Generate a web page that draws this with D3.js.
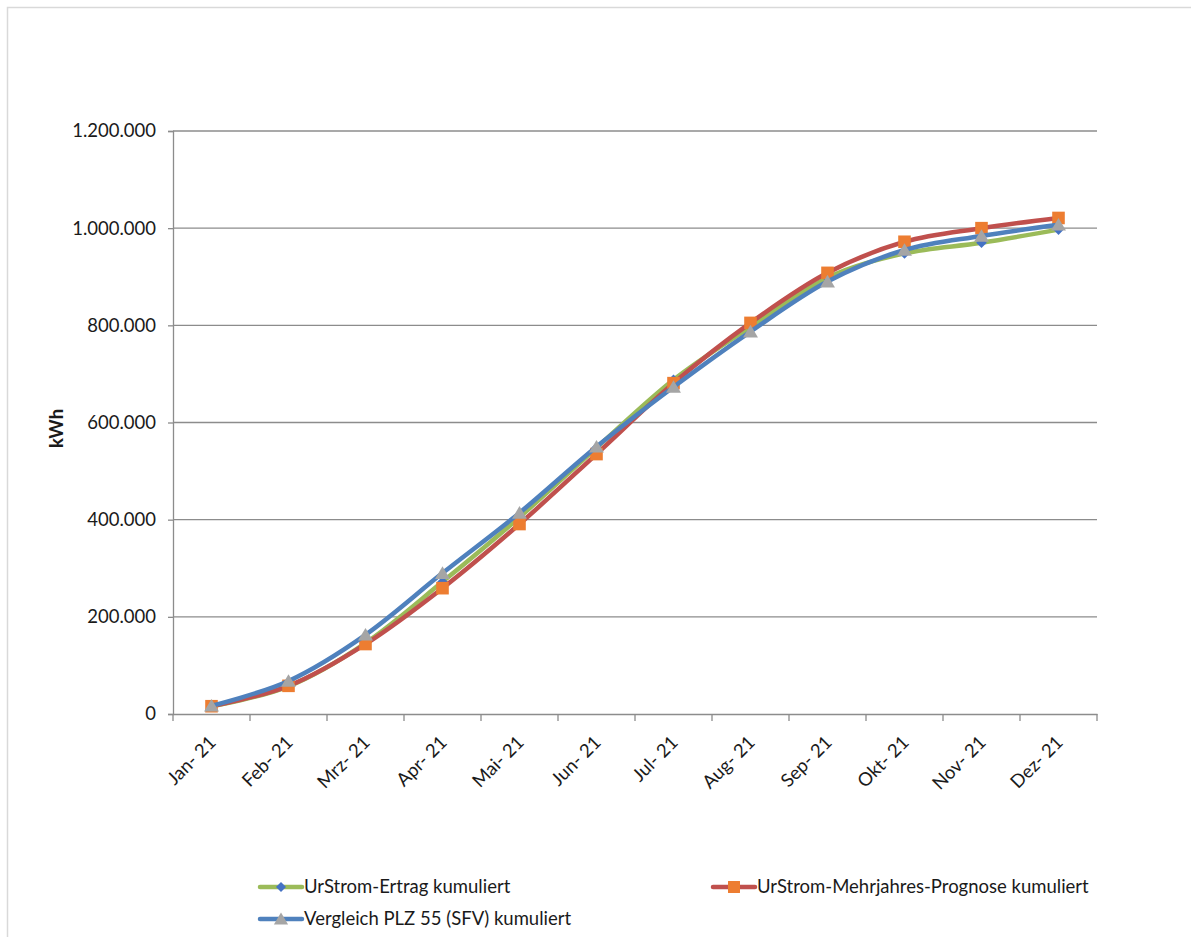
<!DOCTYPE html>
<html>
<head>
<meta charset="utf-8">
<script src="https://cdn.jsdelivr.net/npm/d3@7"></script>
<style>
  html, body { margin: 0; padding: 0; background: #fff; }
  svg { display: block; }
  text { font-family: Lato, "Open Sans", sans-serif; fill: #1a1a1a; }
</style>
</head>
<body>
<svg id="chart" width="1191" height="937"></svg>
<script>
const months = ["Jan- 21", "Feb- 21", "Mrz- 21", "Apr- 21", "Mai- 21", "Jun- 21",
                "Jul- 21", "Aug- 21", "Sep- 21", "Okt- 21", "Nov- 21", "Dez- 21"];
const ertrag    = [16000, 57000, 146000, 272000, 405000, 548000, 688000, 797000, 898000, 948000, 970000, 997000];
const prognose  = [16000, 58000, 144000, 259000, 391000, 535000, 681000, 805000, 908000, 972000, 1000000, 1021000];
const vergleich = [17000, 68000, 163000, 290000, 414000, 550000, 673000, 787000, 890000, 955000, 984000, 1007000];
const yTicks = [0, 200000, 400000, 600000, 800000, 1000000, 1200000];
const seriesNames = ["UrStrom-Ertrag kumuliert", "UrStrom-Mehrjahres-Prognose kumuliert", "Vergleich PLZ 55 (SFV) kumuliert"];

const svg = d3.select("#chart");
const W = 1191, H = 937;
const plot = { left: 173, right: 1097, top: 131, bottom: 714 };

// outer frame
svg.append("rect").attr("x", 7.5).attr("y", 7.5).attr("width", W).attr("height", H)
  .attr("fill", "#fff").attr("stroke", "#d9d9d9").attr("stroke-width", 1.5);

const x = d3.scaleBand().domain(months).range([plot.left, plot.right]);
const y = d3.scaleLinear().domain([0, 1200000]).range([plot.bottom, plot.top]);

const fmt = v => v === 0 ? "0" : d3.format(",")(v).replace(/,/g, ".");
const gridColor = "#8c8c8c";

// gridlines
svg.append("g").selectAll("line").data(yTicks.filter(d => d > 0)).join("line")
  .attr("x1", plot.left).attr("x2", plot.right)
  .attr("y1", d => y(d)).attr("y2", d => y(d))
  .attr("stroke", gridColor).attr("stroke-width", 1.3);

// y axis
const yAxis = svg.append("g").attr("transform", `translate(${plot.left},0)`)
  .call(d3.axisLeft(y).tickValues(yTicks).tickFormat(fmt).tickSize(5).tickPadding(12));
yAxis.select(".domain").attr("stroke", gridColor).attr("stroke-width", 1.3);
yAxis.selectAll(".tick line").attr("stroke", gridColor).attr("stroke-width", 1.3);
yAxis.selectAll(".tick text").attr("font-size", 18.5).attr("font-family", "Lato, sans-serif").attr("fill", "#1a1a1a");

// x axis
const xAxis = svg.append("g").attr("transform", `translate(0,${plot.bottom})`)
  .call(d3.axisBottom(x).tickSize(0).tickFormat(""));
xAxis.select(".domain").attr("stroke", gridColor).attr("stroke-width", 1.3);
// boundary ticks
const bounds = months.map(m => x(m)).concat([x(months[months.length - 1]) + x.bandwidth()]);
svg.append("g").selectAll("line").data(bounds).join("line")
  .attr("x1", d => d).attr("x2", d => d)
  .attr("y1", plot.bottom).attr("y2", plot.bottom + 7)
  .attr("stroke", gridColor).attr("stroke-width", 1.3);
// x labels
svg.append("g").selectAll("text").data(months).join("text")
  .attr("transform", d => `translate(${x(d) + x.bandwidth() / 2 + 1},${plot.bottom + 25}) rotate(-45)`)
  .attr("text-anchor", "end").attr("dy", "0.35em")
  .attr("font-size", 18.5).text(d => d);

// y title
svg.append("text")
  .attr("transform", `translate(57,${(plot.top + plot.bottom) / 2 + 6}) rotate(-90)`)
  .attr("text-anchor", "middle").attr("dy", "0.35em")
  .attr("font-size", 18.5).attr("font-weight", "bold").attr("fill", "#000").text("kWh");

const cx = (d, i) => x(months[i]) + x.bandwidth() / 2;
const line = d3.line().x((d, i) => cx(d, i)).y(d => y(d)).curve(d3.curveCardinal.tension(0));

const diamond = (s) => `M0,${-s} L${s},0 L0,${s} L${-s},0 Z`;
const square = (s) => `M${-s},${-s} H${s} V${s} H${-s} Z`;
const triangle = (s) => `M0,${-s} L${s * 1.1},${s * 0.85} L${-s * 1.1},${s * 0.85} Z`;

const series = [
  { name: seriesNames[0], data: ertrag, line: "#9BBB59", marker: "#4472C4", shape: diamond, size: 5.3 },
  { name: seriesNames[1], data: prognose, line: "#C0504D", marker: "#ED7D31", shape: square, size: 6.3 },
  { name: seriesNames[2], data: vergleich, line: "#4F81BD", marker: "#A5A5A5", shape: triangle, size: 6.8 }
];

series.forEach(s => {
  const g = svg.append("g");
  g.append("path").attr("d", line(s.data)).attr("fill", "none")
    .attr("stroke", s.line).attr("stroke-width", 4.5).attr("stroke-linejoin", "round").attr("stroke-linecap", "round");
  g.selectAll("path.m").data(s.data).join("path").attr("class", "m")
    .attr("transform", (d, i) => `translate(${cx(d, i)},${y(d)})`)
    .attr("d", s.shape(s.size)).attr("fill", s.marker);
});

// legend
const legendItems = [
  { s: series[0], x: 260, y: 887 },
  { s: series[1], x: 713, y: 887 },
  { s: series[2], x: 260, y: 919 }
];
const lg = svg.append("g");
legendItems.forEach(it => {
  const g = lg.append("g").attr("transform", `translate(${it.x},${it.y})`);
  g.append("line").attr("x1", 0).attr("x2", 42).attr("y1", 0).attr("y2", 0)
    .attr("stroke", it.s.line).attr("stroke-width", 4.5).attr("stroke-linecap", "round");
  g.append("path").attr("transform", "translate(21,0)").attr("d", it.s.shape(it.s.size * 0.95)).attr("fill", it.s.marker);
  g.append("text").attr("x", 44).attr("y", 0).attr("dy", "0.35em").attr("font-size", 18.5).text(it.s.name);
});
</script>
</body>
</html>
